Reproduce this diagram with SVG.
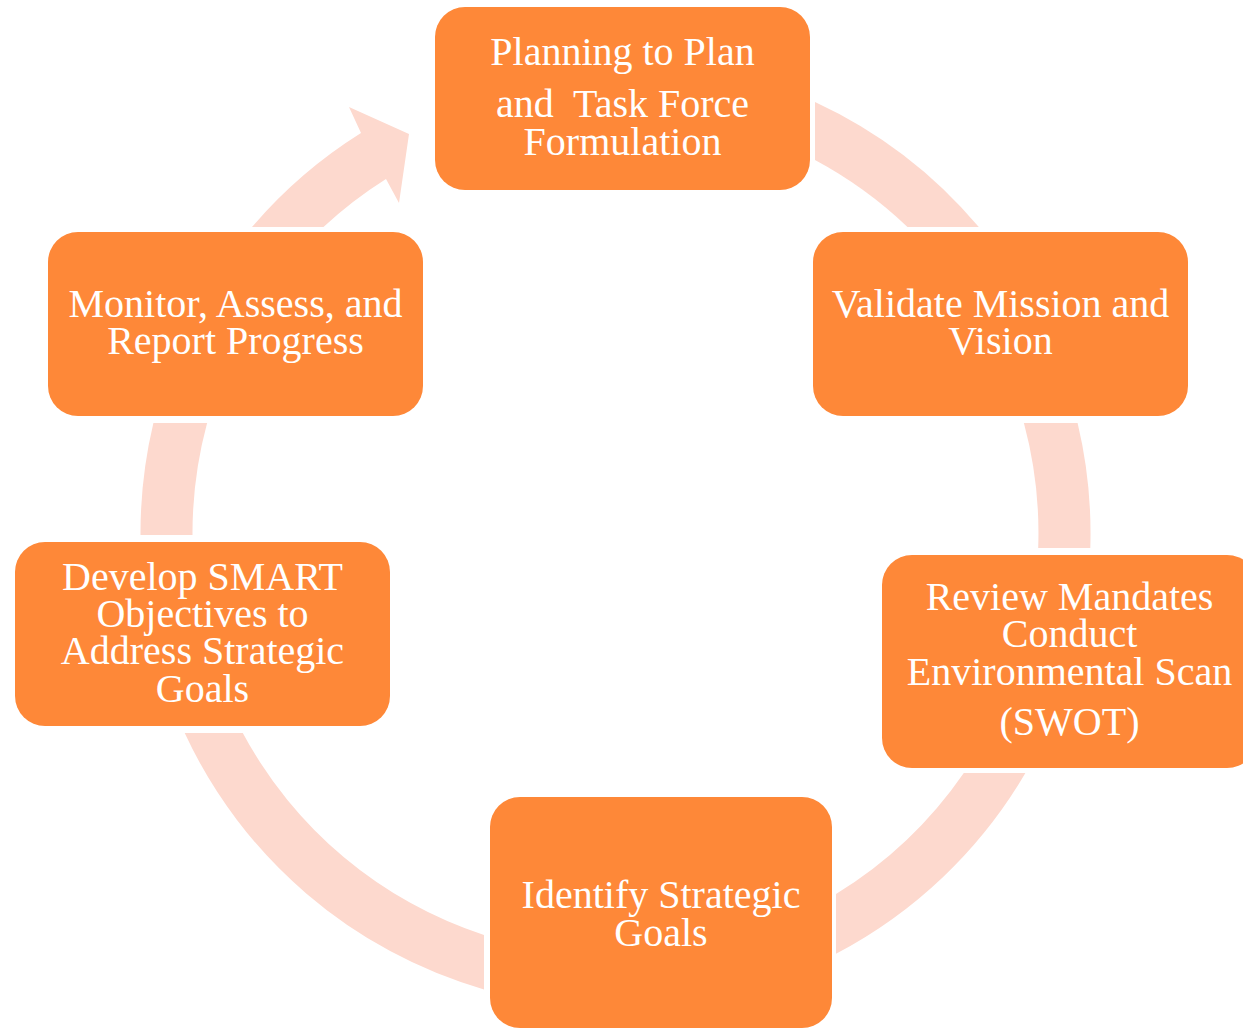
<svg xmlns="http://www.w3.org/2000/svg" width="1243" height="1030" viewBox="0 0 1243 1030">
  <style>
    .ring { fill: #FDD9CE; }
    .box { fill: #FE8838; }
    .lbl { fill: #FFFFFF; font-family: "Liberation Serif", "Times New Roman", serif; font-size: 40px; text-anchor: middle; }
  </style>
  <rect width="1243" height="1030" fill="#FFFFFF"/>

  <!-- cycle ring segments: centre (615.5,533), outer r 475, inner r 423 -->
  <g id="connectors">
    <path id="arc-plan-validate" class="ring" d="M 815,101.9 A 475 475 0 0 1 978.8,227 L 907.5,227 A 423 423 0 0 0 815,160 Z"/>
    <path id="arc-validate-review" class="ring" d="M 1077.6,423 A 475 475 0 0 1 1090.3,548 L 1038.2,548 A 423 423 0 0 0 1023.9,423 Z"/>
    <path id="arc-review-identify" class="ring" d="M 1025.4,773 A 475 475 0 0 1 836,953.7 L 836,894 A 423 423 0 0 0 963.8,773 Z"/>
    <path id="arc-identify-develop" class="ring" d="M 484,989.4 A 475 475 0 0 1 184.7,733 L 242.8,733 A 423 423 0 0 0 484,935 Z"/>
    <path id="arc-develop-monitor" class="ring" d="M 140.5,535 A 475 475 0 0 1 153.4,423 L 207.1,423 A 423 423 0 0 0 192.5,535 Z"/>
    <path id="arc-monitor-plan" class="ring" d="M 252,227 A 475 475 0 0 1 361,133 L 349,107 L 409,134 L 399,203 L 386,179 A 423 423 0 0 0 323.5,227 Z"/>
  </g>

  <g id="node-plan">
    <rect class="box" x="435" y="7" width="375" height="183" rx="30"/>
    <text class="lbl" xml:space="preserve"><tspan x="622.5" y="65">Planning to Plan</tspan><tspan x="622.5" y="117">and  Task Force</tspan><tspan x="622.5" y="155">Formulation</tspan></text>
  </g>

  <g id="node-validate">
    <rect class="box" x="813" y="232" width="375" height="184" rx="30"/>
    <text class="lbl"><tspan x="1000.5" y="317">Validate Mission and</tspan><tspan x="1000.5" y="354">Vision</tspan></text>
  </g>

  <g id="node-review">
    <rect class="box" x="882" y="555" width="375" height="213" rx="30"/>
    <text class="lbl"><tspan x="1069.5" y="610">Review Mandates</tspan><tspan x="1069.5" y="647">Conduct</tspan><tspan x="1069.5" y="685">Environmental Scan</tspan><tspan x="1069.5" y="735">(SWOT)</tspan></text>
  </g>

  <g id="node-identify">
    <rect class="box" x="490" y="797" width="342" height="231" rx="30"/>
    <text class="lbl"><tspan x="661" y="908">Identify Strategic</tspan><tspan x="661" y="946">Goals</tspan></text>
  </g>

  <g id="node-develop">
    <rect class="box" x="15" y="542" width="375" height="184" rx="30"/>
    <text class="lbl"><tspan x="202.5" y="590">Develop SMART</tspan><tspan x="202.5" y="627">Objectives to</tspan><tspan x="202.5" y="664">Address Strategic</tspan><tspan x="202.5" y="702">Goals</tspan></text>
  </g>

  <g id="node-monitor">
    <rect class="box" x="48" y="232" width="375" height="184" rx="30"/>
    <text class="lbl"><tspan x="235.5" y="317">Monitor, Assess, and</tspan><tspan x="235.5" y="354">Report Progress</tspan></text>
  </g>
</svg>
